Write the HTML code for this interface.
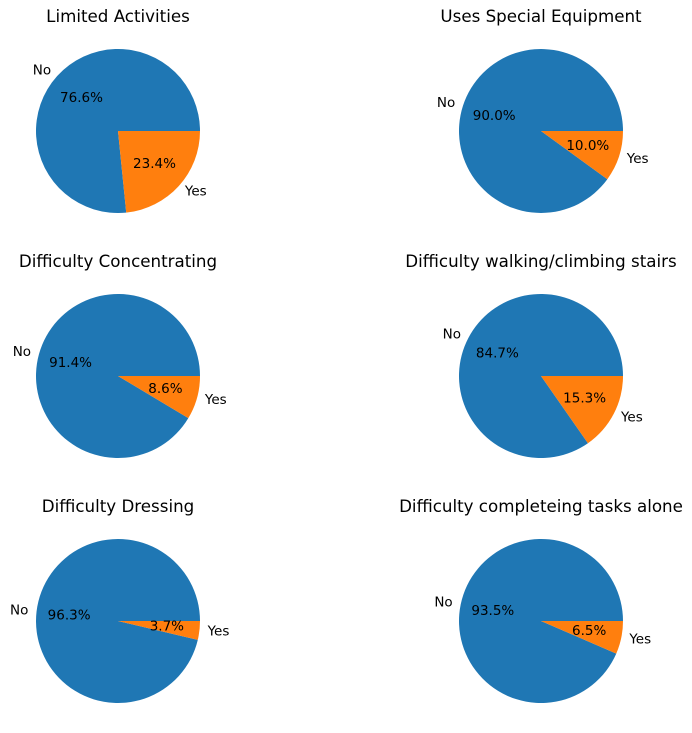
<!DOCTYPE html>
<html><head><meta charset="utf-8"><style>
body{margin:0;background:#fff;}
svg{display:block;font-family:"DejaVu Sans","Liberation Sans",sans-serif;}
</style></head><body>
<svg id="chart" width="692" height="733" viewBox="0 0 692 733"></svg>
<script>
const titles=["Limited Activities","Uses Special Equipment","Difficulty Concentrating","Difficulty walking/climbing stairs","Difficulty Dressing","Difficulty completeing tasks alone"];
const categories=["No","Yes"];
const noPct=[76.6,90.0,91.4,84.7,96.3,93.5];
const yesPct=[23.4,10.0,8.6,15.3,3.7,6.5];
const colors=["#1f77b4","#ff7f0e"];
const svg=document.getElementById('chart');
const NS="http://www.w3.org/2000/svg";
const centersX=[118,541], centersY=[131,376,621], R=82;
function mk(tag,attrs){const e=document.createElementNS(NS,tag);for(const k in attrs)e.setAttribute(k,attrs[k]);return e;}
titles.forEach((t,i)=>{
  const cx=centersX[i%2], cy=centersY[Math.floor(i/2)];
  const g=mk('g',{});
  
  
  svg.appendChild(g);
  const title=mk('text',{x:cx,y:cy-109,'text-anchor':'middle','font-size':'16.7',fill:'#000'});
  
  
  title.textContent=t; g.appendChild(title);
  const vals=[noPct[i],yesPct[i]];
  const total=vals[0]+vals[1];
  let a0=0;
  vals.forEach((v,j)=>{
    const a1=a0+v/total*2*Math.PI;
    const x0=cx+R*Math.cos(a0), y0=cy-R*Math.sin(a0);
    const x1=cx+R*Math.cos(a1), y1=cy-R*Math.sin(a1);
    const large=(a1-a0)>Math.PI?1:0;
    const p=mk('path',{d:`M${cx},${cy} L${x0},${y0} A${R},${R} 0 ${large} 0 ${x1},${y1} Z`,fill:colors[j]});
    
    
    g.appendChild(p);
    const m=(a0+a1)/2, c=Math.cos(m), s=Math.sin(m);
    const lab=mk('text',{x:cx+1.1*R*c,y:cy-1.1*R*s,'text-anchor':c>0?'start':'end','dominant-baseline':'central','font-size':'13.5',fill:'#000'});
    
    
    lab.textContent=categories[j]; g.appendChild(lab);
    const pc=mk('text',{x:cx+0.6*R*c,y:cy-0.6*R*s,'text-anchor':'middle','dominant-baseline':'central','font-size':'13.5',fill:'#000'});
    
    
    pc.textContent=v.toFixed(1)+'%'; g.appendChild(pc);
    a0=a1;
  });
});
</script>
</body></html>
